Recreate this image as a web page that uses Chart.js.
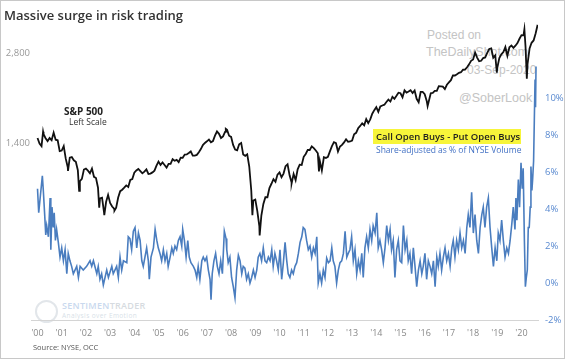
<!DOCTYPE html>
<html><head><meta charset="utf-8">
<script src="https://cdn.jsdelivr.net/npm/chart.js@4.4.1/dist/chart.umd.min.js"></script>
<style>
html,body{margin:0;padding:0;background:#fff;}
#wrap{position:relative;width:567px;height:360px;overflow:hidden;background:#fff;font-family:"Open Sans",sans-serif;}
#frame{position:absolute;left:0;top:0;width:563px;height:357px;border:1px solid #c8c8c8;pointer-events:none;}
#c{position:absolute;left:0;top:0;}
.t{position:absolute;white-space:nowrap;line-height:1;}
.wm{font-family:"Liberation Sans",Arial,sans-serif;color:#c4c4c4;}
</style></head><body>
<div id="wrap">
  <div class="t wm" style="left:427px;top:29px;font-size:12px;">Posted on</div>
  <div class="t wm" style="left:426px;top:46px;font-size:12.5px;">TheDailyShot.com</div>
  <div class="t wm" style="left:467px;top:64px;font-size:12px;">03-Sep-2020</div>
  <div class="t wm" style="left:459px;top:92px;font-size:12.5px;">@SoberLook</div>
  <div style="position:absolute;left:35px;top:300px;width:19px;height:19px;border:2px solid #e2e6ea;border-radius:50%;"></div>
  <div class="t" style="left:62px;top:301px;font-size:9px;font-weight:600;letter-spacing:0.3px;color:#c9d9ee;">SENTIMEN<span style="color:#d6dbe0;">TRADER</span></div>
  <div class="t" style="left:62px;top:313px;font-size:6.5px;color:#d8dfe8;letter-spacing:0.4px;">Analysis over Emotion</div>
  <canvas id="c" width="567" height="360"></canvas>
  <div class="t" style="left:4px;top:9px;font-size:13px;font-weight:600;color:#333;">Massive surge in risk trading</div>
  <div class="t" style="left:64px;top:105.5px;font-size:10px;font-weight:700;color:#222;">S&amp;P 500</div>
  <div class="t" style="left:69px;top:118px;font-size:8.5px;color:#333;">Left Scale</div>
  <div class="t" style="left:373px;top:129px;height:15px;width:148px;background:#f7f53a;"></div>
  <div class="t" style="left:376px;top:132px;font-size:9.5px;font-weight:600;color:#1e1e1e;">Call Open Buys - Put Open Buys</div>
  <div class="t" style="left:376px;top:146px;font-size:8.5px;color:#4472c4;">Share-adjusted as % of NYSE Volume</div>
  <div class="t" style="left:33px;top:344px;font-size:7.5px;color:#555;">Source: NYSE, OCC</div>
  <div id="frame"></div>
</div>
<script>
// S&P 500 month-end closes, Jan 2000 .. Aug 2020
const spxMonthEnd = [
1394.46,1366.42,1498.58,1452.43,1420.60,1454.60,1430.83,1517.68,1436.51,1429.40,1314.95,1320.28,
1366.01,1239.94,1160.33,1249.46,1255.82,1224.42,1211.23,1133.58,1040.94,1059.78,1139.45,1148.08,
1130.20,1106.73,1147.39,1076.92,1067.14,989.82,911.62,916.07,815.28,885.76,936.31,879.82,
855.70,841.15,848.18,916.92,963.59,974.50,990.31,1008.01,995.97,1050.71,1058.20,1111.92,
1131.13,1144.94,1126.21,1107.30,1120.68,1140.84,1101.72,1104.24,1114.58,1130.20,1173.82,1211.92,
1181.27,1203.60,1180.59,1156.85,1191.50,1191.33,1234.18,1220.33,1228.81,1207.01,1249.48,1248.29,
1280.08,1280.66,1294.83,1310.61,1270.09,1270.20,1276.66,1303.82,1335.85,1377.94,1400.63,1418.30,
1438.24,1406.82,1420.86,1482.37,1530.62,1503.35,1455.27,1473.99,1526.75,1549.38,1481.14,1468.36,
1378.55,1330.63,1322.70,1385.59,1400.38,1280.00,1267.38,1282.83,1166.36,968.75,896.24,903.25,
825.88,735.09,797.87,872.81,919.14,919.32,987.48,1020.62,1057.08,1036.19,1095.63,1115.10,
1073.87,1104.49,1169.43,1186.69,1089.41,1030.71,1101.60,1049.33,1141.20,1183.26,1180.55,1257.64,
1286.12,1327.22,1325.83,1363.61,1345.20,1320.64,1292.28,1218.89,1131.42,1253.30,1246.96,1257.60,
1312.41,1365.68,1408.47,1397.91,1310.33,1362.16,1379.32,1406.58,1440.67,1412.16,1416.18,1426.19,
1498.11,1514.68,1569.19,1597.57,1630.74,1606.28,1685.73,1632.97,1681.55,1756.54,1805.81,1848.36,
1782.59,1859.45,1872.34,1883.95,1923.57,1960.23,1930.67,2003.37,1972.29,2018.05,2067.56,2058.90,
1994.99,2104.50,2067.89,2085.51,2107.39,2063.11,2103.84,1972.18,1920.03,2079.36,2080.41,2043.94,
1940.24,1932.23,2059.74,2065.30,2096.95,2098.86,2173.60,2170.95,2168.27,2126.15,2198.81,2238.83,
2278.87,2363.64,2362.72,2384.20,2411.80,2423.41,2470.30,2471.65,2519.36,2575.26,2647.58,2673.61,
2823.81,2713.83,2640.87,2648.05,2705.27,2718.37,2816.29,2901.52,2913.98,2711.74,2760.17,2506.85,
2704.10,2784.49,2834.40,2945.83,2752.06,2941.76,2980.38,2926.46,2976.74,3037.56,3140.98,3230.78,
3225.52,2954.22,2584.59,2912.43,3044.31,3100.29,3271.12,3500.31
];
// additional S&P 500 weekly closes at turning points
const spxExtraYears  = [2000.00,2000.23,2001.26,2001.72,2002.55,2002.76,2003.18,2007.78,2008.88,2009.18,2010.50,2011.63,2016.12,2018.98,2020.12,2020.22];
const spxExtraValues = [1455.22,1527.46,1128.00,965.80,847.75,800.58,828.89,1561.80,800.03,683.38,1022.58,1123.53,1864.78,2416.62,3380.16,2304.92];

// Call open buys - put open buys, % of NYSE volume
const blueYears = [
2000.00,2000.05,2000.20,2000.24,2000.30,2000.34,2000.38,2000.45,2000.52,2000.55,
2000.60,2000.65,2000.69,2000.74,2000.79,2000.86,2000.93,2001.00,2001.07,2001.14,
2001.21,2001.27,2001.34,2001.41,2001.48,2001.62,2001.69,2001.76,2001.89,2002.03,
2002.17,2002.24,2002.31,2002.45,2002.51,2002.58,2002.65,2002.72,2002.86,2002.93,
2003.07,2003.13,2003.27,2003.34,2003.41,2003.48,2003.55,2003.69,2003.75,
2003.82,2003.89,2003.96,2004.03,2004.10,2004.17,2004.24,2004.31,2004.37,2004.44,
2004.51,2004.58,2004.62,2004.69,2004.79,2004.86,2004.93,2004.99,2005.06,2005.13,
2005.20,2005.27,2005.34,2005.40,2005.48,2005.55,2005.61,2005.68,2005.75,2005.82,
2005.89,2005.96,2006.00,2006.07,2006.14,2006.21,2006.27,2006.34,2006.44,2006.51,
2006.58,2006.64,2006.71,2006.79,2006.85,2006.92,2006.99,2007.06,2007.13,2007.17,
2007.22,2007.29,2007.36,2007.43,2007.50,2007.57,2007.64,2007.72,
2007.79,2007.82,2007.88,2007.95,2008.02,2008.09,2008.16,2008.23,2008.30,2008.37,
2008.44,2008.50,2008.57,2008.64,2008.71,2008.78,2008.85,2008.92,2008.99,2009.06,
2009.12,2009.19,2009.26,2009.33,2009.40,2009.47,2009.54,2009.61,2009.68,2009.74,
2009.81,2009.88,2009.95,2010.02,2010.09,2010.16,2010.23,2010.30,2010.36,2010.43,
2010.50,2010.57,2010.64,2010.71,2010.78,2010.85,2010.92,2010.98,2011.05,2011.12,
2011.19,2011.26,2011.33,2011.40,2011.47,2011.54,2011.60,
2011.67,2011.74,2011.81,2011.88,2011.95,2012.02,2012.09,2012.16,2012.22,2012.29,
2012.36,2012.43,2012.50,2012.57,2012.64,2012.71,2012.78,2012.84,2012.91,2012.98,
2013.05,2013.12,2013.19,2013.26,2013.33,2013.40,2013.46,2013.53,2013.60,2013.67,
2013.74,2013.81,2013.87,2013.95,2014.02,2014.08,2014.15,2014.22,2014.29,2014.36,
2014.43,2014.50,2014.57,2014.63,2014.70,2014.77,2014.84,2014.91,2014.98,2015.05,
2015.12,2015.19,2015.26,2015.32,
2015.39,2015.46,2015.53,2015.60,2015.67,2015.74,2015.81,2015.88,2015.94,2016.01,
2016.08,2016.15,2016.22,2016.29,2016.36,2016.43,2016.50,2016.56,2016.63,2016.70,
2016.77,2016.84,2016.91,2016.98,2017.05,2017.12,2017.18,2017.25,2017.32,2017.39,
2017.46,2017.53,2017.60,2017.67,2017.74,2017.80,2017.87,2017.94,2018.01,2018.08,
2018.15,2018.22,2018.29,2018.36,2018.42,2018.49,2018.56,2018.63,2018.70,2018.77,
2018.84,2018.91,2018.98,2019.04,2019.11,2019.18,2019.25,2019.32,2019.39,2019.46,
2019.53,2019.60,2019.66,2019.73,2019.77,2019.81,2019.87,2019.92,2019.98,2020.03,
2020.07,2020.12,2020.16,2020.20,2020.24,2020.28,2020.32,2020.36,2020.39,2020.43,
2020.46,2020.50,2020.53,2020.56,2020.58,2020.60
];
const bluePct = [
5.1,3.8,5.8,5.0,3.6,2.6,3.1,2.5,4.6,1.8,
4.1,3.0,3.8,2.3,2.9,2.2,1.4,1.9,1.2,1.8,
0.5,1.6,1.2,0.9,0.5,0.9,0.3,0.9,0.7,0.9,
1.2,0.9,1.2,0.5,0.9,0.2,0.5,-0.1,0.7,0.3,
0.9,0.5,0.9,0.3,1.4,0.7,1.2,1.1,2.5,
2.4,1.8,2.8,3.0,1.9,2.7,2.3,1.2,0.9,1.4,
1.9,1.2,0.2,1.4,1.9,2.9,2.3,1.9,1.6,1.2,
1.8,1.2,1.6,0.9,1.4,1.9,1.6,2.0,1.8,2.3,
2.5,2.0,2.9,2.3,1.4,2.3,1.4,1.1,0.9,0.7,
0.3,0.9,0.2,1.2,1.4,1.2,1.4,0.7,0.2,-0.9,
0.5,1.2,1.6,0.9,0.5,1.2,0.5,2.8,
2.4,1.8,1.1,1.4,0.3,-0.2,-0.8,0.7,1.5,1.2,
0.5,0.9,0.8,0.2,0.5,0.0,0.3,0.7,0.3,0.7,
1.4,1.6,1.2,1.9,1.2,1.1,1.4,1.2,1.8,0.9,
1.6,1.2,0.7,1.8,0.2,1.1,2.2,1.2,0.5,0.3,
0.7,0.5,0.9,1.1,1.6,2.2,2.5,3.0,2.9,2.3,
1.8,2.0,1.4,1.9,1.6,2.5,0.0,
0.5,0.0,0.7,0.3,1.35,1.1,1.2,1.9,1.2,0.9,
0.0,0.7,1.1,1.2,1.6,2.8,1.4,1.6,1.8,2.5,
1.2,1.8,0.5,1.2,0.7,1.6,0.3,1.9,2.5,1.9,
2.9,2.3,3.1,2.7,3.8,1.9,2.3,1.8,1.1,1.9,
3.1,2.3,2.9,1.8,2.3,0.3,1.8,2.3,1.2,1.1,
3.1,1.8,2.3,1.2,
1.6,0.5,1.9,0.9,-0.2,0.7,1.2,0.5,0.9,1.6,
0.2,1.2,0.9,0.5,1.2,-0.2,1.4,0.9,1.6,0.7,
1.4,1.9,1.2,1.6,0.9,1.9,2.3,1.4,2.3,1.8,
2.7,1.9,2.3,1.6,3.0,3.7,3.0,4.9,2.7,3.7,
2.3,1.6,3.0,3.7,4.1,3.0,4.1,4.6,3.0,1.9,
0.9,1.9,1.2,2.7,2.3,3.4,2.3,1.4,1.9,1.6,
2.3,3.2,4.1,2.9,4.6,3.4,5.6,4.1,6.5,5.1,
6.2,2.3,-0.2,0.3,0.7,3.0,3.0,4.1,6.3,5.0,
5.6,6.6,8.8,11.0,9.5,11.7
];

const xTickYears  = [2000,2001,2002,2003,2004,2005,2006,2007,2008,2009,2010,2011,2012,2013,2014,2015,2016,2017,2018,2019,2020];
const xTickLabels = ["'00","'01","'02","'03","'04","'05","'06","'07","'08","'09","'10","'11","'12","'13","'14","'15","'16","'17","'18","'19","'20"];
const leftTicks   = [1400, 2800];
const leftLabels  = ["1,400", "2,800"];
const rightTicks  = [-2, 0, 2, 4, 6, 8, 10];
const rightLabels = ["-2%", "0%", "2%", "4%", "6%", "8%", "10%"];

const spxPoints = spxMonthEnd.map((v, i) => ({x: 2000 + (i + 1) / 12, y: v}));
spxExtraYears.forEach((t, i) => spxPoints.push({x: t, y: spxExtraValues[i]}));
spxPoints.sort((a, b) => a.x - b.x);
const n = Math.min(blueYears.length, bluePct.length);
const bluePoints = [];
for (let i = 0; i < n; i++) bluePoints.push({x: blueYears[i], y: bluePct[i]});

Chart.defaults.font.family = "'Open Sans', sans-serif";
new Chart(document.getElementById('c'), {
  type: 'line',
  data: {
    datasets: [
      {data: spxPoints, yAxisID: 'y', borderColor: '#111', borderWidth: 1.8, pointRadius: 0, tension: 0, fill: false},
      {data: bluePoints, yAxisID: 'y2', borderColor: '#4a7dbf', borderWidth: 1.6, pointRadius: 0, tension: 0, fill: false}
    ]
  },
  options: {
    responsive: false, animation: false, events: [],
    layout: {padding: {top: 22, bottom: 18, left: 0, right: 0}},
    plugins: {legend: {display: false}, tooltip: {enabled: false}},
    scales: {
      x: {
        type: 'linear', min: 1999.731, max: 2020.682,
        afterBuildTicks: s => { s.ticks = xTickYears.map(v => ({value: v})); },
        afterFit: s => { s.height = 22; },
        ticks: {callback: (v, i) => xTickLabels[i], color: '#888', font: {size: 9}, padding: 8, maxRotation: 0, autoSkip: false},
        grid: {display: false, drawTicks: false},
        border: {display: true, color: '#d4d4d4', width: 1}
      },
      y: {
        type: 'logarithmic', position: 'left', min: 354.9, max: 3577, bounds: 'data',
        afterBuildTicks: s => { s.ticks = leftTicks.map(v => ({value: v})); },
        afterFit: s => { s.width = 31; },
        ticks: {callback: (v, i) => leftLabels[i], color: '#999', font: {size: 9.5}, padding: 1},
        grid: {display: false, drawTicks: false},
        border: {display: false}
      },
      y2: {
        type: 'linear', position: 'right', min: -2, max: 14.11,
        afterBuildTicks: s => { s.ticks = rightTicks.map(v => ({value: v})); },
        afterFit: s => { s.width = 29; },
        ticks: {callback: (v, i) => rightLabels[i], color: '#5a8ad0', font: {size: 9.5}, padding: 7},
        grid: {display: false, drawTicks: false},
        border: {display: false}
      }
    }
  }
});
</script>
</body></html>
